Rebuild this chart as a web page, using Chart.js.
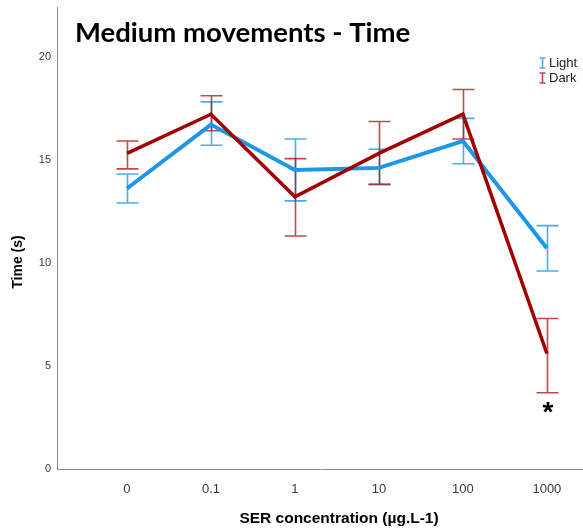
<!DOCTYPE html>
<html>
<head>
<meta charset="utf-8">
<script src="https://cdn.jsdelivr.net/npm/chart.js@4"></script>
<style>
  html, body { margin: 0; padding: 0; background: #fff; }
  #wrap { width: 583px; height: 528px; position: relative; overflow: hidden; }
</style>
</head>
<body>
<div id="wrap"><canvas id="c" width="583" height="528"></canvas></div>
<script>
// Concentration groups (x axis)
const categories = ['0', '0.1', '1', '10', '100', '1000'];

// Light condition: mean and error-bar limits (s)
const lightMean = [13.6, 16.7, 14.5, 14.6, 15.9, 10.7];
const lightLow  = [12.9, 15.7, 13.0, 13.8, 14.8, 9.6];
const lightHigh = [14.3, 17.8, 16.0, 15.5, 17.0, 11.8];

// Dark condition: mean and error-bar limits (s)
const darkMean = [15.3, 17.2, 13.2, 15.3, 17.2, 5.6];
const darkLow  = [14.55, 16.4, 11.3, 13.8, 16.0, 3.7];
const darkHigh = [15.9, 18.1, 15.05, 16.85, 18.4, 7.3];

// Y axis tick values
const yTicks = [0, 5, 10, 15, 20];

// Group flagged as significant
const significantIndex = 5;

const BLUE = 'rgb(30,150,230)';
const BLUE_BAR = 'rgba(40,160,235,0.85)';
const RED = 'rgb(160,0,0)';
const RED_BAR = 'rgba(170,30,30,0.8)';

const toPoints = arr => arr.map((v, i) => ({ x: i, y: v }));

// Error bars with caps, drawn under the mean lines
const errorBars = {
  id: 'errorBars',
  beforeDatasetsDraw(chart) {
    const { ctx, scales: { x, y } } = chart;
    const groups = [
      { low: lightLow, high: lightHigh, color: BLUE_BAR },
      { low: darkLow, high: darkHigh, color: RED_BAR }
    ];
    const cap = 11;
    ctx.save();
    ctx.lineWidth = 1.6;
    groups.forEach(g => {
      ctx.strokeStyle = g.color;
      g.low.forEach((lo, i) => {
        const px = Math.round(x.getPixelForValue(i)) + 0.5;
        const pLo = y.getPixelForValue(lo);
        const pHi = y.getPixelForValue(g.high[i]);
        ctx.beginPath();
        ctx.moveTo(px, pLo); ctx.lineTo(px, pHi);
        ctx.moveTo(px - cap, pLo); ctx.lineTo(px + cap, pLo);
        ctx.moveTo(px - cap, pHi); ctx.lineTo(px + cap, pHi);
        ctx.stroke();
      });
    });
    ctx.restore();
  }
};

// Title, axis titles, significance mark and legend
const annotations = {
  id: 'annotations',
  afterDraw(chart) {
    const { ctx, scales: { x, y } } = chart;
    ctx.save();
    ctx.fillStyle = '#000';

    // Chart title
    ctx.font = 'bold 27.5px Lato';
    ctx.textAlign = 'left';
    ctx.textBaseline = 'alphabetic';
    ctx.fillText('Medium movements - Time', 75, 42);

    // X axis title
    ctx.font = 'bold 15.5px "Liberation Sans"';
    ctx.textAlign = 'center';
    ctx.textBaseline = 'middle';
    ctx.fillText('SER concentration (\u00b5g.L-1)', 339, 519);

    // Y axis title
    ctx.font = 'bold 14px "Liberation Sans"';
    ctx.save();
    ctx.translate(18, 262);
    ctx.rotate(-Math.PI / 2);
    ctx.fillText('Time (s)', 0, 0);
    ctx.restore();

    // Significance asterisk
    ctx.font = 'bold 28px "Liberation Sans"';
    ctx.textAlign = 'center';
    ctx.textBaseline = 'top';
    ctx.fillText('*', x.getPixelForValue(significantIndex) + 1,
                 y.getPixelForValue(darkLow[significantIndex]) + 7);

    // Legend
    const items = [
      { label: 'Light', color: BLUE_BAR, cy: 63 },
      { label: 'Dark', color: RED_BAR, cy: 78 }
    ];
    ctx.font = '13px "Liberation Sans"';
    ctx.textAlign = 'left';
    ctx.textBaseline = 'middle';
    items.forEach(it => {
      const ix = 542.5;
      ctx.strokeStyle = it.color;
      ctx.lineWidth = 1.6;
      ctx.beginPath();
      ctx.moveTo(ix, it.cy - 5); ctx.lineTo(ix, it.cy + 5);
      ctx.moveTo(ix - 3, it.cy - 5); ctx.lineTo(ix + 3, it.cy - 5);
      ctx.moveTo(ix - 3, it.cy + 5); ctx.lineTo(ix + 3, it.cy + 5);
      ctx.stroke();
      ctx.fillStyle = '#222';
      ctx.fillText(it.label, 549, it.cy + 0.5);
    });
    ctx.restore();
  }
};

new Chart(document.getElementById('c'), {
  type: 'line',
  data: {
    datasets: [
      {
        label: 'Dark',
        data: toPoints(darkMean),
        borderColor: RED,
        borderWidth: 3.5,
        pointRadius: 0,
        tension: 0,
        order: 0
      },
      {
        label: 'Light',
        data: toPoints(lightMean),
        borderColor: BLUE,
        borderWidth: 4,
        pointRadius: 0,
        tension: 0,
        order: 1
      }
    ]
  },
  options: {
    responsive: false,
    animation: false,
    devicePixelRatio: 1,
    layout: { padding: { top: 7, right: 0, bottom: 0, left: 0 } },
    plugins: {
      legend: { display: false },
      tooltip: { enabled: false },
      title: { display: false }
    },
    scales: {
      x: {
        type: 'linear',
        min: -0.833,
        max: 5.43,
        afterFit: s => { s.height = 59; s.paddingLeft = 0; s.paddingRight = 0; },
        afterBuildTicks: s => { s.ticks = categories.map((_, i) => ({ value: i })); },
        grid: { display: false, drawTicks: false },
        border: { display: true, color: '#8a8a8a', width: 1 },
        ticks: {
          callback: v => categories[v],
          color: '#3a3a3a',
          padding: 13,
          maxRotation: 0,
          font: { family: 'Liberation Sans', size: 13 }
        }
      },
      y: {
        min: 0,
        max: 22.4,
        afterFit: s => { s.width = 57; s.paddingTop = 0; s.paddingBottom = 0; },
        afterBuildTicks: s => { s.ticks = yTicks.map(v => ({ value: v })); },
        grid: { display: false, drawTicks: false },
        border: { display: true, color: '#8a8a8a', width: 1 },
        ticks: {
          color: '#3a3a3a',
          padding: 6,
          font: { family: 'Liberation Sans', size: 11 }
        }
      }
    }
  },
  plugins: [errorBars, annotations]
});
</script>
</body>
</html>
